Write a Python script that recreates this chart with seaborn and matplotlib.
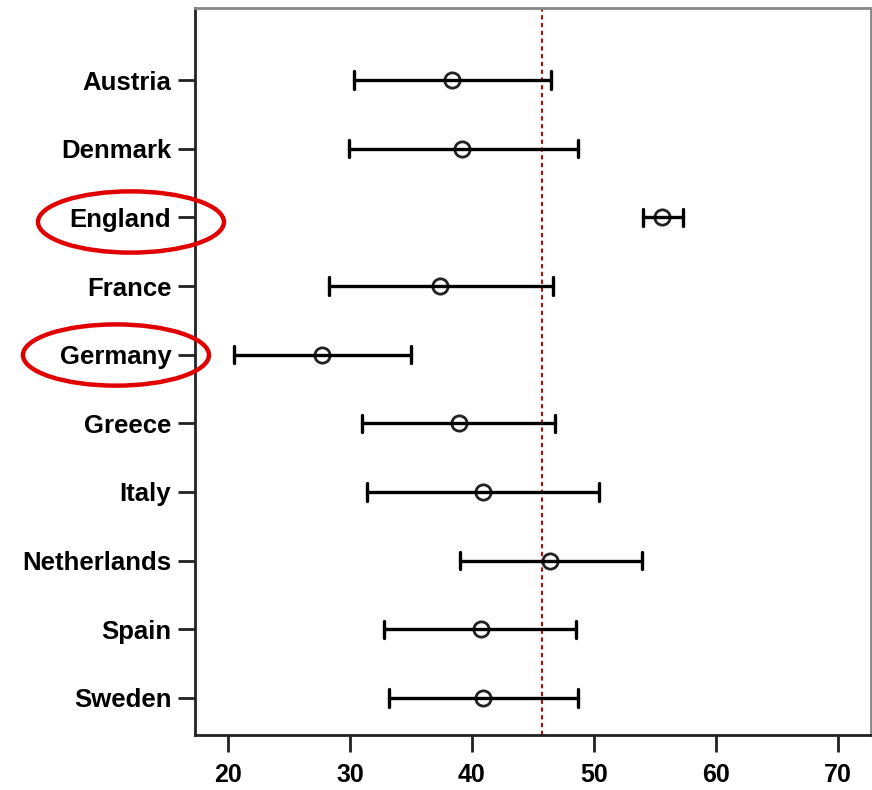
import seaborn as sns
import matplotlib.pyplot as plt
import pandas as pd
from matplotlib.patches import Ellipse

# DATA
countries = ['Austria', 'Denmark', 'England', 'France', 'Germany',
             'Greece', 'Italy', 'Netherlands', 'Spain', 'Sweden']
means = [38.4, 39.2, 55.6, 37.4, 27.7, 38.9, 40.9, 46.4, 40.7, 40.9]
lower = [30.3, 29.9, 54.0, 28.3, 20.5, 31.0, 31.4, 39.0, 32.8, 33.2]
upper = [46.5, 48.7, 57.3, 46.6, 35.0, 46.8, 50.4, 53.9, 48.5, 48.7]
reference_line = 45.7
highlighted = ['England', 'Germany']
x_ticks = [20, 30, 40, 50, 60, 70]

# Long table: low / mean / high per country -> median = mean, full range = interval
rows = []
for c, lo, m, hi in zip(countries, lower, means, upper):
    for v in (lo, m, hi):
        rows.append({'Country': c, 'Value': v})
df = pd.DataFrame(rows)

# VISUALIZE DATA
sns.set_style('white')
plt.rcParams['font.family'] = ['Liberation Sans', 'DejaVu Sans']

fig = plt.figure(figsize=(8.72, 7.9), dpi=100)
ax = fig.add_axes([0.2236, 0.0696, 0.7753, 0.9203])

sns.pointplot(
    data=df, x='Value', y='Country', order=countries,
    estimator='median', errorbar=('pi', 100),
    linestyle='none', marker='o', color='black',
    capsize=0.25, err_kws={'linewidth': 2.4, 'color': 'black'},
    markersize=11, markerfacecolor='none', markeredgecolor='#222222',
    markeredgewidth=2, ax=ax
)

ax.axvline(reference_line, color='#c00000', linestyle=(0, (2.2, 1.8)),
           linewidth=1.4, zorder=0)

ax.set_xlim(17.3, 72.7)
ax.set_ylim(9.54, -1.05)
ax.set_xticks(x_ticks)
ax.set_xlabel('')
ax.set_ylabel('')

for side in ['left', 'bottom']:
    ax.spines[side].set_color('#222222')
    ax.spines[side].set_linewidth(2)
for side in ['top', 'right']:
    ax.spines[side].set_color('#888888')
    ax.spines[side].set_linewidth(2)

ax.tick_params(axis='both', which='major', direction='out', length=12,
               width=2, color='#222222', labelcolor='black', labelsize=18.5,
               bottom=True, left=True)
ax.tick_params(axis='y', pad=5)
ax.tick_params(axis='x', pad=8, labelsize=18)
for lab in ax.get_xticklabels() + ax.get_yticklabels():
    lab.set_fontweight('bold')

# Red ellipses around highlighted labels
centers = {'England': (0.1502, 0.7190), 'Germany': (0.1330, 0.5506)}
for name in highlighted:
    fig.patches.append(Ellipse(centers[name], 0.2133, 0.0775,
                               transform=fig.transFigure, fill=False,
                               edgecolor='#e00000', linewidth=3.2))

plt.savefig('out.png', dpi=100)
